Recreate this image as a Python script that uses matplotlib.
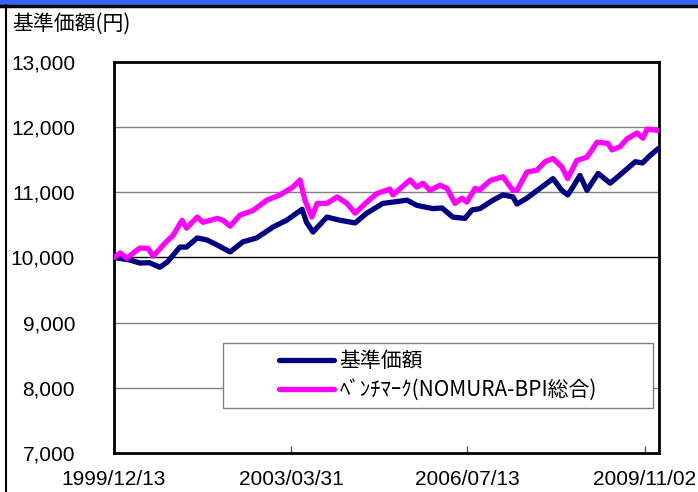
import matplotlib
matplotlib.use("Agg")
import matplotlib.pyplot as plt
import matplotlib.dates as mdates
from matplotlib.patches import Rectangle
import pandas as pd

plt.rcParams['font.family'] = ['Noto Sans CJK JP', 'DejaVu Sans']

# fund NAV (基準価額)
nav_dates = ['1999-12-13', '2000-04-01', '2000-06-05', '2000-08-10', '2000-10-20',
             '2000-12-10', '2001-03-05', '2001-04-20', '2001-07-01', '2001-09-05',
             '2001-11-15', '2002-02-10', '2002-05-08', '2002-08-10', '2002-12-01',
             '2003-03-01', '2003-06-15', '2003-07-15', '2003-08-28', '2003-12-01',
             '2004-03-01', '2004-06-10', '2004-08-28', '2004-12-15', '2005-02-22',
             '2005-05-28', '2005-08-04', '2005-11-20', '2006-01-22', '2006-04-05',
             '2006-06-27', '2006-08-14', '2006-10-07', '2007-01-04', '2007-03-12',
             '2007-05-19', '2007-06-16', '2007-08-22', '2007-11-19', '2008-02-16',
             '2008-04-16', '2008-05-26', '2008-06-30', '2008-08-17', '2008-10-04',
             '2008-12-19', '2009-03-11', '2009-06-08', '2009-08-29', '2009-10-16',
             '2009-12-10', '2010-02-01']
nav_values = [10000, 9960, 9915, 9920, 9850,
              9930, 10160, 10160, 10300, 10270,
              10190, 10085, 10240, 10300, 10470,
              10570, 10740, 10540, 10390, 10620,
              10570, 10530, 10680, 10830, 10850,
              10880, 10800, 10750, 10760, 10620,
              10600, 10730, 10750, 10880, 10960,
              10930, 10820, 10910, 11060, 11210,
              11030, 10960, 11080, 11260, 11030,
              11290, 11140, 11310, 11470, 11450,
              11570, 11670]

# benchmark (NOMURA-BPI総合)
bm_dates = ['1999-12-13', '2000-01-24', '2000-03-10', '2000-06-05', '2000-08-01',
            '2000-09-05', '2000-11-24', '2001-01-18', '2001-03-20', '2001-04-20',
            '2001-07-01', '2001-08-10', '2001-11-15', '2001-12-25', '2002-02-10',
            '2002-04-18', '2002-07-15', '2002-10-18', '2003-01-15', '2003-04-13',
            '2003-06-01', '2003-07-04', '2003-08-20', '2003-09-25', '2003-12-01',
            '2004-02-08', '2004-04-15', '2004-06-10', '2004-08-28', '2004-11-04',
            '2005-02-01', '2005-02-22', '2005-06-18', '2005-08-04', '2005-09-14',
            '2005-11-01', '2006-01-08', '2006-02-25', '2006-04-20', '2006-06-06',
            '2006-07-10', '2006-09-03', '2006-10-07', '2006-12-15', '2007-03-12',
            '2007-05-19', '2007-06-16', '2007-08-22', '2007-10-30', '2007-12-24',
            '2008-02-16', '2008-04-16', '2008-05-26', '2008-07-27', '2008-10-04',
            '2008-12-12', '2009-02-24', '2009-03-23', '2009-05-17', '2009-07-03',
            '2009-09-10', '2009-10-20', '2009-11-17', '2010-02-01']
bm_values = [10000, 10070, 9990, 10145, 10140,
             10020, 10220, 10340, 10570, 10450,
             10620, 10540, 10600, 10570, 10480,
             10650, 10720, 10880, 10960, 11080,
             11190, 10880, 10620, 10830, 10830,
             10930, 10830, 10680, 10850, 10980,
             11050, 10960, 11190, 11080, 11140,
             11030, 11110, 11060, 10830, 10910,
             10850, 11060, 11040, 11180, 11240,
             11030, 11030, 11310, 11340, 11470,
             11520, 11390, 11210, 11490, 11540,
             11770, 11750, 11650, 11700, 11820,
             11910, 11830, 11970, 11950]

tick_dates = ['1999-12-13', '2003-03-31', '2006-07-13', '2009-11-02']
tick_labels = ['1999/12/13', '2003/03/31', '2006/07/13', '2009/11/02']
y_ticks = [7000, 8000, 9000, 10000, 11000, 12000, 13000]

fig = plt.figure(figsize=(6.98, 4.92), dpi=100)

# blue banner on top and the frame line on the left
fig.patches.append(Rectangle((0, 0.99), 1, 0.01, transform=fig.transFigure,
                             facecolor='#3366ff', edgecolor='none', zorder=0))
fig.lines.append(plt.Line2D([0, 1], [0.9885, 0.9885], transform=fig.transFigure,
                            color='black', lw=2.5))
fig.lines.append(plt.Line2D([0.008, 0.008], [0, 0.99], transform=fig.transFigure,
                            color='black', lw=1.5))

ax = fig.add_axes([0.1633, 0.0793, 0.7808, 0.7947])

nd = pd.to_datetime(nav_dates)
bd = pd.to_datetime(bm_dates)
ax.plot(nd, nav_values, color='#000080', lw=3.8, solid_capstyle='round',
        solid_joinstyle='round', label='基準価額', zorder=3)
ax.plot(bd, bm_values, color='#ff00ff', lw=3.8, solid_capstyle='round',
        solid_joinstyle='round', label='ﾍﾞﾝﾁﾏｰｸ(NOMURA-BPI総合)', zorder=4)

ax.set_xlim(pd.Timestamp('1999-12-13'), pd.Timestamp('2010-02-06'))
ax.set_ylim(7000, 13000)

for v in y_ticks[1:-1]:
    ax.axhline(v, color='black' if v == 10000 else '#808080', lw=1, zorder=1)

ax.set_yticks(y_ticks)
ax.set_yticklabels([f'{v:,}' for v in y_ticks], fontfamily='Liberation Sans', fontsize=15)
ax.tick_params(axis='y', length=0, pad=28)

ax.set_xticks(pd.to_datetime(tick_dates))
ax.set_xticklabels(tick_labels, fontfamily='Liberation Sans', fontsize=15)
ax.tick_params(axis='x', direction='in', length=5, width=1, pad=12, color='#555555')

for s in ax.spines.values():
    s.set_linewidth(2)

fig.text(0.017, 0.952, '基準価額(円)', fontsize=15, va='center', ha='left')

# legend box
ax.add_patch(Rectangle((0.2, 0.115), 0.789, 0.166, transform=ax.transAxes,
                       facecolor='white', edgecolor='#808080', lw=1, zorder=5))
leg = ax.legend(loc='center', bbox_to_anchor=(0.5945, 0.198), frameon=False,
                fontsize=15, handlelength=2.65, handletextpad=0.25,
                labelspacing=0.35, borderpad=0)
leg.set_zorder(6)
for line in leg.get_lines():
    line.set_linewidth(3.8)

fig.savefig('out.png', dpi=100)
